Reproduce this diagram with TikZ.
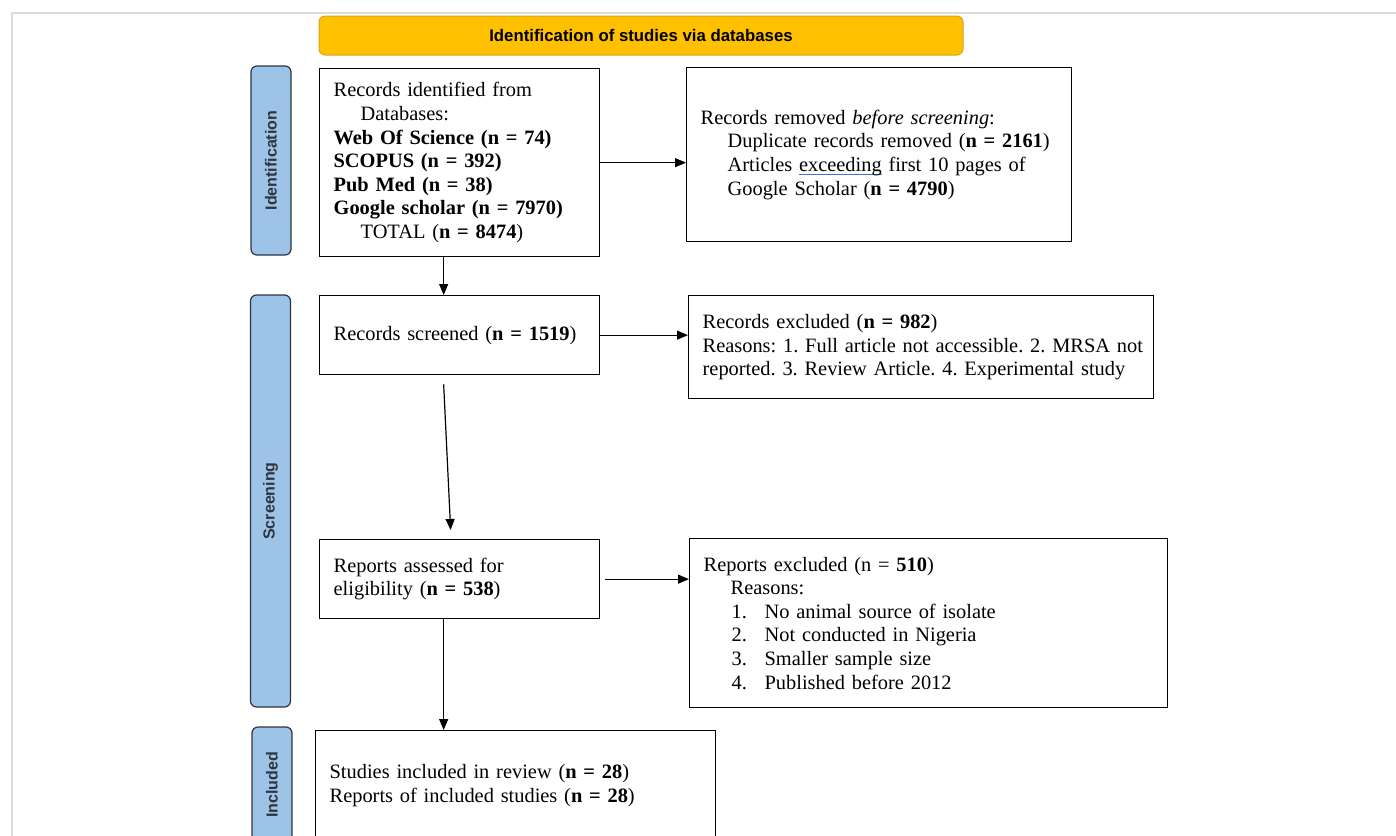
\documentclass[tikz,border=0pt]{standalone}
\usepackage{fontspec}
\setmainfont{Liberation Serif}
\newfontfamily\sidefont{Liberation Sans}
\usetikzlibrary{arrows.meta}

\definecolor{bannerfill}{HTML}{FFC000}
\definecolor{bannerdraw}{HTML}{D9A520}
\definecolor{phasefill}{HTML}{9DC3E6}
\definecolor{phasedraw}{HTML}{2E3440}
\definecolor{framegrey}{HTML}{DCDCDC}
\definecolor{typoblue}{HTML}{4472C4}

\newcommand\indentline{\hspace*{27pt}}
\newcommand\reasonitem[2]{\hspace*{28pt}\makebox[33pt][l]{#1}#2}
\newsavebox\typobox
\newcommand\typomark[1]{\sbox\typobox{#1}\rlap{\textcolor{typoblue}{\rule[-3.5pt]{\wd\typobox}{0.9pt}}}\usebox\typobox}

\tikzset{
  prismabox/.style = {draw, line width = 1.3, anchor = north west, align = left,
    inner xsep = 14, inner ysep = 0, font = \frenchspacing\fontsize{20.4}{23.6}\selectfont},
  phasebar/.style = {draw = phasedraw, fill = phasefill, rounded corners = 6,
    line width = 1.2, rotate = 90, text = phasedraw,
    font = \sidefont\bfseries\fontsize{16}{16}\selectfont},
  flow/.style = {-{Triangle[length = 11, width = 9]}, line width = 1.2}
}

\begin{document}
\begin{tikzpicture}[x = 1pt, y = -1pt]
  \useasboundingbox (0, 0) rectangle (1396, 835);
  \draw[framegrey, line width = 2] (12, 840) -- (12, 12.5) -- (1400, 12.5);

  \node[draw = bannerdraw, fill = bannerfill, rounded corners = 6, line width = 1,
        minimum width = 644, minimum height = 39,
        font = \sidefont\bfseries\fontsize{16.8}{16.8}\selectfont]
    (banner) at (641, 35.5) {Identification of studies via databases};

  \node[phasebar, minimum width = 189, minimum height = 40] (idbar) at (271, 160.5) {Identification};
  \node[phasebar, minimum width = 412, minimum height = 40] (scrbar) at (270.5, 501) {Screening};
  \node[phasebar, minimum width = 116, minimum height = 40] (incbar) at (272, 785) {Included};

  \node[prismabox, minimum width = 280, minimum height = 188, text width = 252] (identified) at (319, 68)
    {Records identified from\\
     \indentline Databases:\\
     \textbf{Web Of Science (n = 74)}\\
     \textbf{SCOPUS (n = 392)}\\
     \textbf{Pub Med (n = 38)}\\
     \textbf{Google scholar (n = 7970)}\\
     \indentline TOTAL (\textbf{n = 8474})};
  \node[prismabox, minimum width = 385, minimum height = 174, text width = 357] (removed) at (686, 67)
    {Records removed \textit{before screening}:\\
     \indentline Duplicate records removed (\textbf{n = 2161})\\
     \indentline Articles \typomark{exceeding} first 10 pages of\\
     \indentline Google Scholar (\textbf{n = 4790})};

  \node[prismabox, minimum width = 280, minimum height = 79, text width = 252] (screened) at (319, 295)
    {Records screened (\textbf{n = 1519})};
  \node[prismabox, minimum width = 465, minimum height = 103, text width = 437] (recexcl) at (688, 295)
    {Records excluded (\textbf{n = 982})\\
     \mbox{Reasons: 1. Full article not accessible. 2. MRSA not}\\
     reported. 3. Review Article. 4. Experimental study};

  \node[prismabox, minimum width = 280, minimum height = 79, text width = 252] (assessed) at (319, 539)
    {Reports assessed for\\
     eligibility (\textbf{n = 538})};
  \node[prismabox, minimum width = 478, minimum height = 169, text width = 450] (repexcl) at (689, 538)
    {Reports excluded (n = \textbf{510})\\
     \indentline Reasons:\\
     \reasonitem{1.}{No animal source of isolate}\\
     \reasonitem{2.}{Not conducted in Nigeria}\\
     \reasonitem{3.}{Smaller sample size}\\
     \reasonitem{4.}{Published before 2012}};

  \node[prismabox, minimum width = 400, minimum height = 110, text width = 372] (included) at (315, 730)
    {Studies included in review (\textbf{n = 28})\\
     Reports of included studies (\textbf{n = 28})};

  \draw[flow] (identified.east) -- (removed.west |- identified.east);
  \draw[flow] ([xshift = -16]identified.south) -- ([xshift = -16]screened.north);
  \draw[flow] (screened.east) -- (recexcl.west |- screened.east);
  \draw[flow] ([xshift = -16, yshift = -9]screened.south) -- ([xshift = -9, yshift = 9]assessed.north);
  \draw[flow] ([xshift = 5]assessed.east) -- (repexcl.west |- assessed.east);
  \draw[flow] ([xshift = -16]assessed.south) -- ([xshift = -16]assessed.south |- included.north);
\end{tikzpicture}
\end{document}
